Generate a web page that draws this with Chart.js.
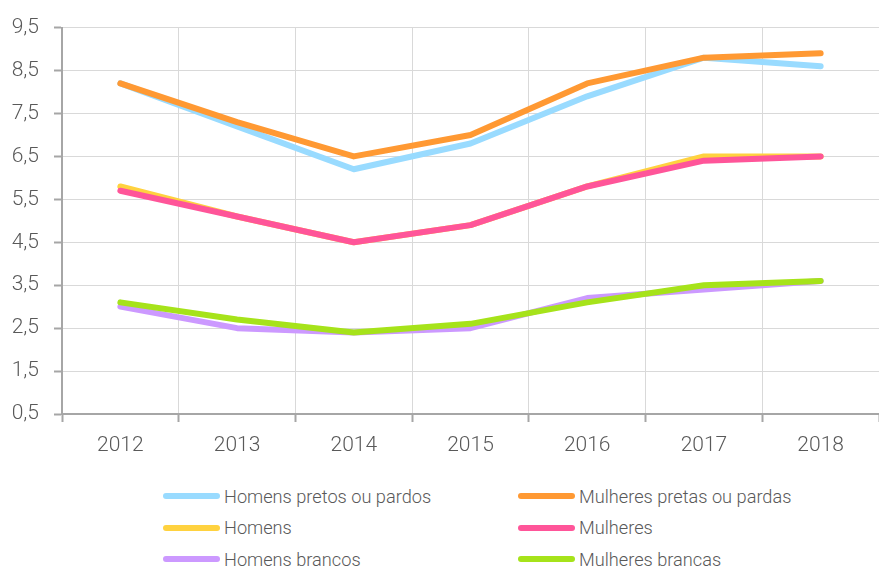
<!DOCTYPE html>
<html>
<head>
<meta charset="utf-8">
<script src="https://cdn.jsdelivr.net/npm/chart.js@4.4.1/dist/chart.umd.min.js"></script>
<style>
  html, body { margin: 0; padding: 0; background: #fff; }
  #wrap { position: relative; width: 879px; height: 566px; font-family: Roboto, 'DejaVu Sans Condensed', sans-serif; font-weight: 300; }
  #box { position: absolute; left: 0; top: 0; width: 879px; height: 470px; }
  #legend { position: absolute; left: 0; top: 481px; width: 879px; }
  .item { position: absolute; display: flex; align-items: center; height: 30px; color: #595959; font-size: 18.2px; white-space: nowrap; }
  .swatch { width: 57px; height: 6px; border-radius: 3px; margin-right: 4px; }
</style>
</head>
<body>
<div id="wrap">
  <div id="box"><canvas id="chart"></canvas></div>
  <div id="legend"></div>
</div>
<script>
// data
const years = ['2012', '2013', '2014', '2015', '2016', '2017', '2018'];
const homensPretos   = [8.2, 7.2, 6.2, 6.8, 7.9, 8.8, 8.6];
const mulheresPretas = [8.2, 7.3, 6.5, 7.0, 8.2, 8.8, 8.9];
const homens         = [5.8, 5.1, 4.5, 4.9, 5.8, 6.5, 6.5];
const mulheres       = [5.7, 5.1, 4.5, 4.9, 5.8, 6.4, 6.5];
const homensBrancos  = [3.0, 2.5, 2.4, 2.5, 3.2, 3.4, 3.6];
const mulheresBrancas = [3.1, 2.7, 2.4, 2.6, 3.1, 3.5, 3.6];

const yMin = 0.5;
const yMax = 9.5;
const yStep = 1;

const FONT = "Roboto, 'DejaVu Sans Condensed', sans-serif";
const TEXT = '#595959';

function line(label, data, color, order) {
    return {
        label: label,
        data: data,
        borderColor: color,
        backgroundColor: color,
        borderWidth: 6,
        borderCapStyle: 'round',
        borderJoinStyle: 'round',
        pointRadius: 0,
        pointHoverRadius: 0,
        tension: 0,
        fill: false,
        order: order
    };
}

const datasets = [
    line('Homens pretos ou pardos', homensPretos, '#99dbff', 1),
    line('Mulheres pretas ou pardas', mulheresPretas, '#ff9933', 0),
    line('Homens', homens, '#ffd23f', 1),
    line('Mulheres', mulheres, '#ff5599', 0),
    line('Homens brancos', homensBrancos, '#cc99ff', 1),
    line('Mulheres brancas', mulheresBrancas, '#a6e31a', 0)
];

const tickFont = { family: FONT, size: 21, weight: '300' };

const ctx = document.getElementById('chart').getContext('2d');
const chart = new Chart(ctx, {
    type: 'line',
    data: { labels: years, datasets: datasets },
    options: {
        responsive: true,
        maintainAspectRatio: false,
        animation: false,
        layout: { padding: { top: 24, right: 0, bottom: 0, left: 0 } },
        scales: {
            x: {
                offset: true,
                grid: { offset: true, color: '#d9d9d9', lineWidth: 1, tickLength: 8, tickColor: '#a6a6a6', tickWidth: 2 },
                border: { color: '#a6a6a6', width: 2 },
                ticks: { color: TEXT, font: tickFont, padding: 11, maxRotation: 0 },
                afterFit: (scale) => { scale.height = 56; }
            },
            y: {
                min: yMin,
                max: yMax,
                grid: { color: '#d9d9d9', lineWidth: 1, tickLength: 8, tickColor: '#a6a6a6', tickWidth: 2 },
                border: { color: '#a6a6a6', width: 2 },
                ticks: {
                    stepSize: yStep,
                    color: TEXT,
                    font: tickFont,
                    padding: 15,
                    callback: (v) => Number(v).toFixed(1).replace('.', ',')
                },
                afterFit: (scale) => { scale.width = 62; }
            }
        },
        plugins: {
            legend: { display: false },
            tooltip: { enabled: false }
        }
    }
});

// two-column legend under the chart
const legend = document.getElementById('legend');
const colLeft = [163, 518];
chart.data.datasets.forEach((ds, i) => {
    const item = document.createElement('div');
    item.className = 'item';
    item.style.left = colLeft[i % 2] + 'px';
    item.style.top = (Math.floor(i / 2) * 31.5) + 'px';
    const sw = document.createElement('span');
    sw.className = 'swatch';
    sw.style.background = ds.borderColor;
    item.appendChild(sw);
    item.appendChild(document.createTextNode(ds.label));
    legend.appendChild(item);
});
</script>
</body>
</html>
